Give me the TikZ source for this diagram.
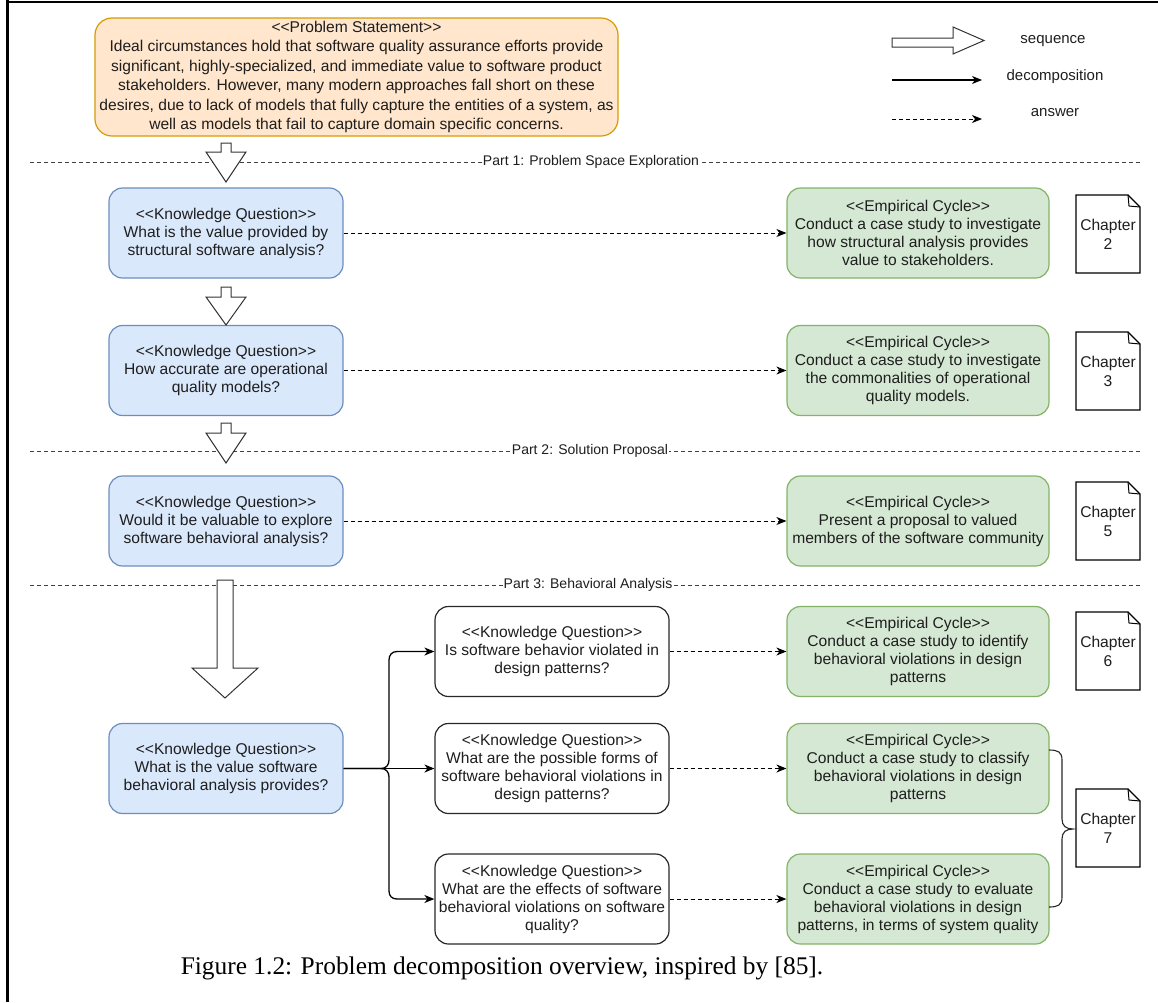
\documentclass[tikz,border=0pt]{standalone}
\usepackage{fontspec}
\setmainfont{Liberation Sans}
\newfontfamily\capfont{Liberation Serif}
\usetikzlibrary{arrows.meta,calc}

\definecolor{txt}{RGB}{30,30,30}
\definecolor{probfill}{HTML}{FFE6CC}
\definecolor{probdraw}{HTML}{D79B00}
\definecolor{kqfill}{HTML}{DAE8FC}
\definecolor{kqdraw}{HTML}{6C8EBF}
\definecolor{ecfill}{HTML}{D5E8D4}
\definecolor{ecdraw}{HTML}{82B366}
\definecolor{wdraw}{RGB}{40,40,40}

% stereotype label  <<name>>
\newcommand\stereo[1]{<{}<#1>{}>}

\tikzset{
  basebox/.style={rectangle, rounded corners=13.5pt, line width=1.2pt,
    inner sep=0pt, align=center, text=txt,
    font=\fontsize{15.6}{18}\selectfont},
  kqbox/.style={basebox, fill=kqfill, draw=kqdraw, minimum width=234pt, minimum height=90pt},
  wbox/.style={basebox, fill=white, draw=wdraw, minimum width=234pt, minimum height=90pt},
  ecbox/.style={basebox, fill=ecfill, draw=ecdraw, minimum width=262pt, minimum height=90pt},
  probbox/.style={basebox, rounded corners=17pt, fill=probfill, draw=probdraw,
    minimum width=523pt, minimum height=118pt, font=\fontsize{15.6}{19.4}\selectfont},
  chapnote/.style={rectangle, inner sep=0pt, minimum width=64pt, minimum height=78pt,
    align=center, text=txt, font=\fontsize{15.6}{19}\selectfont},
  notepath/.style={draw=black, line width=1.2pt, fill=white, line join=miter},
  seqshape/.style={draw=black!80, line width=1pt, fill=white, line join=miter},
  ansarrow/.style={draw=black, line width=1pt, dash pattern=on 4pt off 3pt,
    -{Stealth[length=10pt,width=8pt,inset=3pt]}},
  decarrow/.style={draw=black, line width=1.3pt,
    -{Stealth[length=10pt,width=8pt,inset=3pt]}},
  sepline/.style={draw=black!75, line width=1pt, dash pattern=on 4pt off 3pt},
  partlabel/.style={fill=white, inner sep=1pt, text=txt, font=\fontsize{14}{16}\selectfont},
  legtext/.style={text=txt, font=\fontsize{15}{18}\selectfont},
  bracepath/.style={draw=black!85, line width=1.1pt},
}

% hollow block arrow: centre x, top y, head-base y, tip y, shaft half-width, head half-width
\newcommand\seqdown[6]{%
  \draw[seqshape] (#1-#5,#2) -- (#1+#5,#2) -- (#1+#5,#3) -- (#1+#6,#3) -- (#1,#4)
    -- (#1-#6,#3) -- (#1-#5,#3) -- cycle;}

\begin{document}
\begin{tikzpicture}[x=1pt, y=-1pt]
\useasboundingbox (0,0) rectangle (1158,1002);

% frame edges
\draw[line width=2.5pt] (6,2) -- (1158,2);
\draw[line width=3pt] (7,0) -- (7,1002);

% part separators
\draw[sepline] (30,162) -- (1140,162);
\node[partlabel] (p1) at (591,162) {Part 1: Problem Space Exploration};
\draw[sepline] (30,451) -- (1140,451);
\node[partlabel] (p2) at (590,451) {Part 2: Solution Proposal};
\draw[sepline] (30,585) -- (1140,585);
\node[partlabel] (p3) at (588,585) {Part 3: Behavioral Analysis};

% problem statement
\node[probbox] (prob) at (356.5,77) {\stereo{Problem Statement}\\
Ideal circumstances hold that software quality assurance efforts provide\\
significant, highly-specialized, and immediate value to software product\\
stakeholders. However, many modern approaches fall short on these\\
desires, due to lack of models that fully capture the entities of a system, as\\
well as models that fail to capture domain specific concerns.};

% knowledge questions (main line)
\node[kqbox] (kq1) at (226,233) {\stereo{Knowledge Question}\\What is the value provided by\\structural software analysis?};
\node[kqbox] (kq2) at (226,370.5) {\stereo{Knowledge Question}\\How accurate are operational\\quality models?};
\node[kqbox] (kq3) at (226,521) {\stereo{Knowledge Question}\\Would it be valuable to explore\\software behavioral analysis?};
\node[kqbox] (kq4) at (226,768.5) {\stereo{Knowledge Question}\\What is the value software\\behavioral analysis provides?};

% sub-questions
\node[wbox] (w1) at (552,651.5) {\stereo{Knowledge Question}\\Is software behavior violated in\\design patterns?};
\node[wbox] (w2) at (552,768.5) {\stereo{Knowledge Question}\\What are the possible forms of\\software behavioral violations in\\design patterns?};
\node[wbox] (w3) at (552,899) {\stereo{Knowledge Question}\\What are the effects of software\\behavioral violations on software\\quality?};

% empirical cycles
\node[ecbox] (ec1) at (918,233) {\stereo{Empirical Cycle}\\Conduct a case study to investigate\\how structural analysis provides\\value to stakeholders.};
\node[ecbox] (ec2) at (918,370.5) {\stereo{Empirical Cycle}\\Conduct a case study to investigate\\the commonalities of operational\\quality models.};
\node[ecbox] (ec3) at (918,521) {\stereo{Empirical Cycle}\\Present a proposal to valued\\members of the software community};
\node[ecbox] (ec4) at (918,651.5) {\stereo{Empirical Cycle}\\Conduct a case study to identify\\behavioral violations in design\\patterns};
\node[ecbox] (ec5) at (918,768.5) {\stereo{Empirical Cycle}\\Conduct a case study to classify\\behavioral violations in design\\patterns};
\node[ecbox] (ec6) at (918,899) {\stereo{Empirical Cycle}\\Conduct a case study to evaluate\\behavioral violations in design\\patterns, in terms of system quality};

% chapter notes (folded corner)
\foreach \n/\c/\y in {ch2/2/234, ch3/3/371, ch5/5/521, ch6/6/651, ch7/7/828}{
  \path (1108,\y) coordinate (\n c);
  \draw[notepath] ($(\n c)+(-32,-39)$) -- ($(\n c)+(20,-39)$) -- ($(\n c)+(32,-27)$)
     -- ($(\n c)+(32,39)$) -- ($(\n c)+(-32,39)$) -- cycle;
  \draw[notepath, fill=none, line width=1pt] ($(\n c)+(20,-39)$) -- ($(\n c)+(21,-28)$) -- ($(\n c)+(32,-27)$);
  \node[chapnote] (\n) at (\n c) {Chapter\\\c};
}

% sequence arrows
\seqdown{226}{143}{152}{182}{5}{20}
\seqdown{226}{287}{297}{325}{5}{20}
\seqdown{226}{423}{433}{463}{5}{20}
\seqdown{225}{580}{668}{698}{8}{33}

% answers
\draw[ansarrow] (kq1.east) -- (ec1.west);
\draw[ansarrow] (kq2.east) -- (ec2.west);
\draw[ansarrow] (kq3.east) -- (ec3.west);
\draw[ansarrow] (w1.east) -- (ec4.west);
\draw[ansarrow] (w2.east) -- (ec5.west);
\draw[ansarrow] (w3.east) -- (ec6.west);

% decomposition into sub-questions
\coordinate (jn) at (381,768.5);
\draw[decarrow] (kq4.east) -- (w2.west);
\draw[decarrow] (kq4.east) -- (jn) .. controls (386,768.5) and (389,765) .. (389,760)
   -- (389,660) .. controls (389,655) and (392,651.5) .. (397,651.5) -- (w1.west);
\draw[decarrow] (kq4.east) -- (jn) .. controls (386,768.5) and (389,772) .. (389,777)
   -- (389,891) .. controls (389,896) and (392,899) .. (397,899) -- (w3.west);

% brace grouping the last two cycles under one chapter
\draw[bracepath] (1049,750) .. controls (1058,750) and (1062,752) .. (1062,760)
   -- (1062,819) .. controls (1062,826) and (1066,829) .. (1073,829)
   .. controls (1066,829) and (1062,832) .. (1062,839)
   -- (1062,897) .. controls (1062,905) and (1058,907) .. (1049,907);

% legend
\draw[seqshape] (892,38) -- (953,38) -- (953,27) -- (984,40.5) -- (953,54) -- (953,47) -- (892,47) -- cycle;
\node[legtext] (lseq) at (1053,41) {sequence};
\coordinate (ldec0) at (892,80);
\coordinate (ldec1) at (982,80);
\draw[decarrow] (ldec0) -- (ldec1);
\node[legtext] (ldec) at (1055,77) {decomposition};
\coordinate (lans0) at (892,119);
\coordinate (lans1) at (982,119);
\draw[ansarrow] (lans0) -- (lans1);
\node[legtext] (lans) at (1055,113) {answer};

% caption
\node[font=\capfont\fontsize{25.4}{29}\selectfont, text=black] (cap) at (502,968)
  {Figure 1.2: Problem decomposition overview, inspired by [85].};
\end{tikzpicture}
\end{document}
